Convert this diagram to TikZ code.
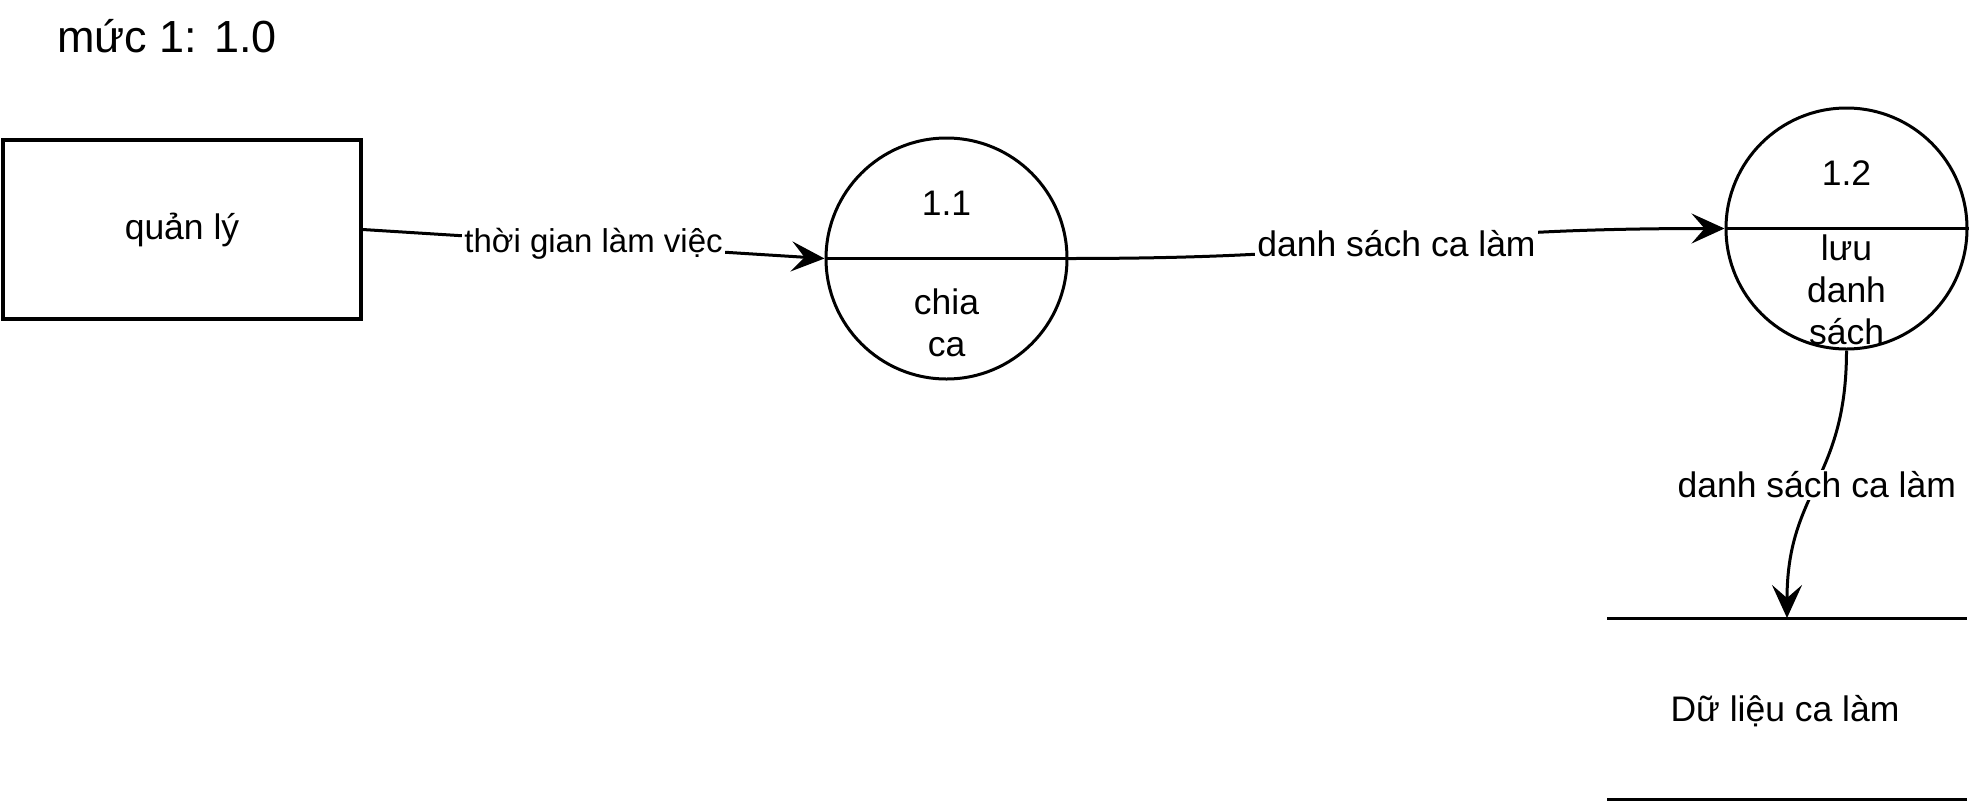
\documentclass[tikz,border=0pt]{standalone}
\usepackage{fontspec}
\setmainfont{Liberation Sans}
\usetikzlibrary{positioning,arrows.meta}

\begin{document}
\begin{tikzpicture}[x=1pt,y=-1pt,
    proc_circle/.style={
        draw,circle,line width=3pt,minimum size=241pt,inner sep=0pt
    },
    ext_box/.style={
        draw,rectangle,line width=3.2pt,minimum width=358pt,minimum height=179pt,
        font=\fontsize{35.5}{42}\selectfont
    },
    txt/.style={
        font=\fontsize{35.5}{42}\selectfont,align=center,inner sep=0pt
    },
    flow_label/.style={
        font=\fontsize{35.5}{42}\selectfont,fill=white,inner sep=2pt
    },
    arrow/.style={
        -{Stealth[length=33pt,width=30pt,inset=13pt]},line width=3pt
    }
]
    \useasboundingbox (0,0) rectangle (1974,801);

    \node[font=\fontsize{45}{52}\selectfont] (title) at (167,36) {mức 1: 1.0};

    \node[ext_box] (ql) at (182,229.5) {quản lý};

    \node[proc_circle] (p1) at (946.5,258.5) {};
    \draw[line width=3pt] (p1.west) -- (p1.east);
    \node[txt] (p1_num) at (946.5,203) {1.1};
    \node[txt] (p1_name) at (946.5,322.5) {chia\\ca};

    \node[proc_circle] (p2) at (1846.5,228.5) {};
    \draw[line width=3pt] (p2.west) -- (p2.east);
    \node[txt] (p2_num) at (1846.5,173) {1.2};
    \node[txt] (p2_name) at (1846.5,290) {lưu\\danh\\sách};

    % kho du lieu
    \coordinate (ds_tl) at (1607,618);
    \coordinate (ds_tr) at (1967,618);
    \coordinate (ds_bl) at (1607,799);
    \coordinate (ds_br) at (1967,799);
    \coordinate (ds_in) at (1787,618);
    \draw[line width=3pt] (ds_tl) -- (ds_tr);
    \draw[line width=3pt] (ds_bl) -- (ds_br);
    \node[txt] (ds) at (1785,711) {Dữ liệu ca làm};

    \draw[arrow] (ql.east) to node[flow_label,font=\fontsize{33}{40}\selectfont]{thời gian làm việc} (p1.west);
    \draw[arrow] (p1.east) .. controls +(330,0) and +(-330,0) .. node[flow_label]{danh sách ca làm} (p2.west);
    \draw[arrow] (p2.south) .. controls +(0,130) and +(0,-128) .. node[flow_label]{danh sách ca làm} (ds_in);
\end{tikzpicture}
\end{document}
